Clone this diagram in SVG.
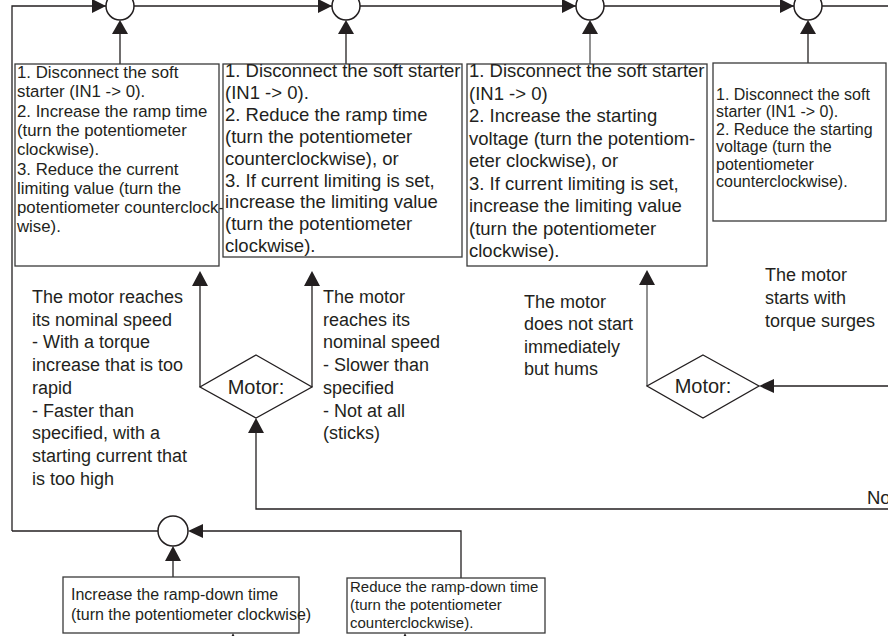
<svg xmlns="http://www.w3.org/2000/svg" width="888" height="636" viewBox="0 0 888 636">
<style>
text{font-family:"Liberation Sans",Arial,sans-serif;fill:#231f20}
.box{fill:#fff;stroke:#3a3a3a;stroke-width:1.3}
.ln{fill:none;stroke:#231f20;stroke-width:1.3}
.cir{fill:#fff;stroke:#231f20;stroke-width:1.5}
.ah{fill:#231f20}
.t16{font-size:16px}
.t168{font-size:16.8px}
.t18{font-size:18px}
.t185{font-size:18.5px}
.t15{font-size:15px}
.mot{font-size:20px}
</style>
<rect width="888" height="636" fill="#fff"/>

<g id="connectors">
  <polyline class="ln" points="12,531 12,6 106,6"/>
  <line class="ln" x1="134" y1="6" x2="332" y2="6"/>
  <line class="ln" x1="360" y1="6" x2="576" y2="6"/>
  <line class="ln" x1="604" y1="6" x2="794" y2="6"/>
  <line class="ln" x1="822" y1="6" x2="888" y2="6"/>
  <polygon class="ah" points="106,6 92,-1 92,13"/>
  <polygon class="ah" points="332,6 318,-1 318,13"/>
  <polygon class="ah" points="576,6 562,-1 562,13"/>
  <polygon class="ah" points="794,6 780,-1 780,13"/>
  <line class="ln" x1="120" y1="64" x2="120" y2="32"/>
  <polygon class="ah" points="120,20 112,34 128,34"/>
  <line class="ln" x1="346" y1="64" x2="346" y2="32"/>
  <polygon class="ah" points="346,20 338,34 354,34"/>
  <line class="ln" x1="590" y1="64" x2="590" y2="32" style="stroke:#555"/>
  <polygon class="ah" points="590,20 582,34 598,34"/>
  <line class="ln" x1="808" y1="63" x2="808" y2="32"/>
  <polygon class="ah" points="808,20 800,34 816,34"/>
  <polyline class="ln" points="200,387 200,284"/>
  <polygon class="ah" points="200,271 192,286 208,286"/>
  <polyline class="ln" points="312,387 312,284"/>
  <polygon class="ah" points="312,271 304,286 320,286"/>
  <polyline class="ln" points="888,509 256,509 256,431"/>
  <polygon class="ah" points="256,418 248,433 264,433"/>
  <polyline class="ln" points="647,386 647,282" style="stroke:#555"/>
  <polygon class="ah" points="647,270 639,285 655,285"/>
  <line class="ln" x1="888" y1="386" x2="773" y2="386"/>
  <polygon class="ah" points="759,386 774,379 774,393"/>
  <line class="ln" x1="12" y1="531" x2="158" y2="531"/>
  <polyline class="ln" points="461,578 461,531 200,531"/>
  <polygon class="ah" points="188,531 203,524 203,538"/>
  <line class="ln" x1="173" y1="577" x2="173" y2="560"/>
  <polygon class="ah" points="173,546 165,561 181,561"/>
  <polygon class="ah" points="233,633 226,648 240,648"/>
  <polygon class="ah" points="405,633 398,648 412,648"/>
</g>

<g id="circle1"><circle class="cir" cx="120" cy="6" r="14"/></g>
<g id="circle2"><circle class="cir" cx="346" cy="6" r="14"/></g>
<g id="circle3"><circle class="cir" cx="590" cy="6" r="14"/></g>
<g id="circle4"><circle class="cir" cx="808" cy="6" r="14"/></g>
<g id="circle5"><circle class="cir" cx="173" cy="531" r="15"/></g>

<g id="box1">
  <rect class="box" x="15" y="64" width="204" height="202"/>
  <text class="t168" x="17" y="78">
    <tspan x="17">1. Disconnect the soft</tspan>
    <tspan x="17" dy="19.3">starter (IN1 -&gt; 0).</tspan>
    <tspan x="17" dy="19.3">2. Increase the ramp time</tspan>
    <tspan x="17" dy="19.3">(turn the potentiometer</tspan>
    <tspan x="17" dy="19.3">clockwise).</tspan>
    <tspan x="17" dy="19.3">3. Reduce the current</tspan>
    <tspan x="17" dy="19.3">limiting value (turn the</tspan>
    <tspan x="17" dy="19.3">potentiometer counterclock-</tspan>
    <tspan x="17" dy="19.3">wise).</tspan>
  </text>
</g>

<g id="box2">
  <rect class="box" x="223" y="64" width="239" height="193"/>
  <text class="t185" x="225" y="77">
    <tspan x="225">1. Disconnect the soft starter</tspan>
    <tspan x="225" dy="21.9">(IN1 -&gt; 0).</tspan>
    <tspan x="225" dy="21.9">2. Reduce the ramp time</tspan>
    <tspan x="225" dy="21.9">(turn the potentiometer</tspan>
    <tspan x="225" dy="21.9">counterclockwise), or</tspan>
    <tspan x="225" dy="21.9">3. If current limiting is set,</tspan>
    <tspan x="225" dy="21.9">increase the limiting value</tspan>
    <tspan x="225" dy="21.9">(turn the potentiometer</tspan>
    <tspan x="225" dy="21.9">clockwise).</tspan>
  </text>
</g>

<g id="box3">
  <rect class="box" x="467" y="64" width="240" height="202"/>
  <text class="t185" x="469" y="77">
    <tspan x="469">1. Disconnect the soft starter</tspan>
    <tspan x="469" dy="22.5">(IN1 -&gt; 0)</tspan>
    <tspan x="469" dy="22.5">2. Increase the starting</tspan>
    <tspan x="469" dy="22.5">voltage (turn the potentiom-</tspan>
    <tspan x="469" dy="22.5">eter clockwise), or</tspan>
    <tspan x="469" dy="22.5">3. If current limiting is set,</tspan>
    <tspan x="469" dy="22.5">increase the limiting value</tspan>
    <tspan x="469" dy="22.5">(turn the potentiometer</tspan>
    <tspan x="469" dy="22.5">clockwise).</tspan>
  </text>
</g>

<g id="box4">
  <rect class="box" x="713" y="63" width="173" height="158"/>
  <text class="t16" x="716" y="100">
    <tspan x="716">1. Disconnect the soft</tspan>
    <tspan x="716" dy="17.4">starter (IN1 -&gt; 0).</tspan>
    <tspan x="716" dy="17.4">2. Reduce the starting</tspan>
    <tspan x="716" dy="17.4">voltage (turn the</tspan>
    <tspan x="716" dy="17.4">potentiometer</tspan>
    <tspan x="716" dy="17.4">counterclockwise).</tspan>
  </text>
</g>

<g id="diamond1">
  <polygon fill="#fff" stroke="#231f20" stroke-width="1.3" points="256,355 312,387 256,418 200,387"/>
  <text class="mot" x="256" y="394" text-anchor="middle">Motor:</text>
</g>

<g id="diamond2">
  <polygon fill="#fff" stroke="#231f20" stroke-width="1.3" points="703,355 759,386 703,418 647,386"/>
  <text class="mot" x="703" y="393" text-anchor="middle">Motor:</text>
</g>

<g id="label-left">
  <text class="t18" x="32" y="303">
    <tspan x="32">The motor reaches</tspan>
    <tspan x="32" dy="22.7">its nominal speed</tspan>
    <tspan x="32" dy="22.7">- With a torque</tspan>
    <tspan x="32" dy="22.7">increase that is too</tspan>
    <tspan x="32" dy="22.7">rapid</tspan>
    <tspan x="32" dy="22.7">- Faster than</tspan>
    <tspan x="32" dy="22.7">specified, with a</tspan>
    <tspan x="32" dy="22.7">starting current that</tspan>
    <tspan x="32" dy="22.7">is too high</tspan>
  </text>
</g>

<g id="label-right1">
  <text class="t18" x="323" y="303">
    <tspan x="323">The motor</tspan>
    <tspan x="323" dy="22.7">reaches its</tspan>
    <tspan x="323" dy="22.7">nominal speed</tspan>
    <tspan x="323" dy="22.7">- Slower than</tspan>
    <tspan x="323" dy="22.7">specified</tspan>
    <tspan x="323" dy="22.7">- Not at all</tspan>
    <tspan x="323" dy="22.7">(sticks)</tspan>
  </text>
</g>

<g id="label-hums">
  <text class="t18" x="524" y="308">
    <tspan x="524">The motor</tspan>
    <tspan x="524" dy="22.3">does not start</tspan>
    <tspan x="524" dy="22.3">immediately</tspan>
    <tspan x="524" dy="22.3">but hums</tspan>
  </text>
</g>

<g id="label-surges">
  <text class="t18" x="765" y="281">
    <tspan x="765">The motor</tspan>
    <tspan x="765" dy="23">starts with</tspan>
    <tspan x="765" dy="23">torque surges</tspan>
  </text>
</g>

<g id="label-no">
  <text class="t185" x="867" y="504">No</text>
</g>

<g id="box5">
  <rect class="box" x="63" y="577" width="236" height="56"/>
  <text class="t16" x="71" y="600">
    <tspan x="71">Increase the ramp-down time</tspan>
    <tspan x="71" dy="20">(turn the potentiometer clockwise)</tspan>
  </text>
</g>

<g id="box6">
  <rect class="box" x="347" y="578" width="198" height="55"/>
  <text class="t15" x="350" y="592">
    <tspan x="350">Reduce the ramp-down time</tspan>
    <tspan x="350" dy="18">(turn the potentiometer</tspan>
    <tspan x="350" dy="18">counterclockwise).</tspan>
  </text>
</g>
</svg>
